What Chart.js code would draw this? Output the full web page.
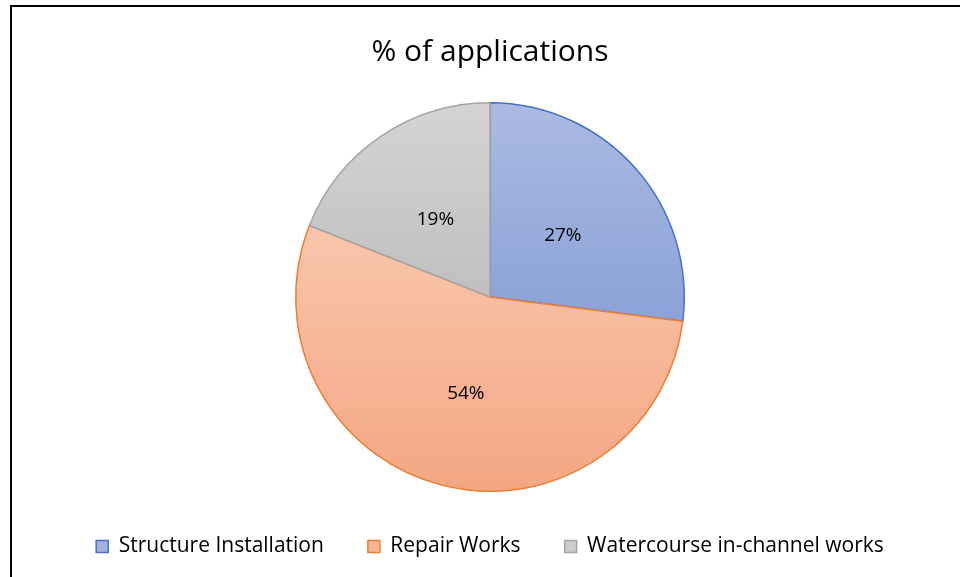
<!DOCTYPE html>
<html>
<head>
<meta charset="utf-8">
<script src="https://cdn.jsdelivr.net/npm/chart.js@4.4.1/dist/chart.umd.min.js"></script>
<style>
    html, body { margin: 0; padding: 0; background: #fff; overflow: hidden; }
    #wrap { position: relative; width: 960px; height: 577px; overflow: hidden; }
    #frame {
        position: absolute; left: 10px; top: 5px; width: 1000px; height: 640px;
        border: 2px solid #000;
    }
    #pieChart { position: absolute; left: 0; top: 0; }
</style>
</head>
<body>
<div id="wrap">
    <div id="frame"></div>
    <canvas id="pieChart" width="960" height="577"></canvas>
</div>
<script>
const categories = ['Structure Installation', 'Repair Works', 'Watercourse in-channel works'];
const shares = [27, 54, 19];
const labelsText = ['27%', '54%', '19%'];

const topColors = ['#abbae2', '#f8c6ad', '#d4d4d4'];
const bottomColors = ['#8aa2d8', '#f4a682', '#bfbfbf'];
const borderColors = ['#4472c4', '#ed7d31', '#a5a5a5'];
const legendFill = ['#a3b3df', '#f6b798', '#cbcbcb'];

const FONT = '"Open Sans", Lato, sans-serif';

// vertical gradient over the bounding box of each slice
function sliceGradient(context) {
    const chart = context.chart;
    const i = context.dataIndex;
    const area = chart.chartArea;
    if (!area) {
        return legendFill[i];
    }
    const cy = (area.top + area.bottom) / 2;
    const r = Math.min(area.right - area.left, area.bottom - area.top) / 2;
    const total = shares.reduce(function (a, b) { return a + b; }, 0);
    let before = 0;
    for (let k = 0; k < i; k++) before += shares[k];
    const a0 = -Math.PI / 2 + 2 * Math.PI * before / total;
    const a1 = a0 + 2 * Math.PI * shares[i] / total;
    let ys = [cy];
    for (let s = 0; s <= 60; s++) {
        const a = a0 + (a1 - a0) * s / 60;
        ys.push(cy + Math.sin(a) * r);
    }
    const top = Math.min.apply(null, ys);
    const bottom = Math.max.apply(null, ys);
    const g = chart.ctx.createLinearGradient(0, top, 0, bottom);
    g.addColorStop(0, topColors[i]);
    g.addColorStop(1, bottomColors[i]);
    return g;
}

const sliceLabels = {
    id: 'sliceLabels',
    afterDatasetsDraw(chart) {
        const ctx = chart.ctx;
        const meta = chart.getDatasetMeta(0);
        ctx.save();
        ctx.font = '19px ' + FONT;
        ctx.fillStyle = '#000';
        ctx.textAlign = 'center';
        ctx.textBaseline = 'middle';
        meta.data.forEach(function (arc, i) {
            const pos = arc.tooltipPosition();
            ctx.fillText(labelsText[i], pos.x, pos.y + 3);
        });
        ctx.restore();
    }
};

document.addEventListener("DOMContentLoaded", function () {
    const ctxPie = document.getElementById('pieChart').getContext('2d');
    new Chart(ctxPie, {
        type: 'pie',
        data: {
            labels: categories,
            datasets: [{
                data: shares,
                backgroundColor: sliceGradient,
                borderColor: borderColors,
                borderWidth: 1.5
            }]
        },
        options: {
            responsive: false,
            animation: false,
            layout: {
                padding: { left: 20, right: 0, top: 0, bottom: 10 }
            },
            plugins: {
                title: {
                    display: true,
                    text: '% of applications',
                    color: '#000',
                    font: { family: FONT, size: 30, weight: 'normal' },
                    padding: { top: 34, bottom: 32 }
                },
                legend: {
                    position: 'bottom',
                    labels: {
                        color: '#000',
                        font: { family: FONT, size: 21 },
                        boxWidth: 12,
                        boxHeight: 12,
                        padding: 44,
                        generateLabels: function (chart) {
                            return categories.map(function (c, i) {
                                return {
                                    text: c,
                                    fillStyle: legendFill[i],
                                    strokeStyle: borderColors[i],
                                    lineWidth: 1.5,
                                    fontColor: '#000',
                                    index: i,
                                    hidden: false
                                };
                            });
                        }
                    }
                },
                tooltip: { enabled: false }
            }
        },
        plugins: [sliceLabels]
    });
});
</script>
</body>
</html>
